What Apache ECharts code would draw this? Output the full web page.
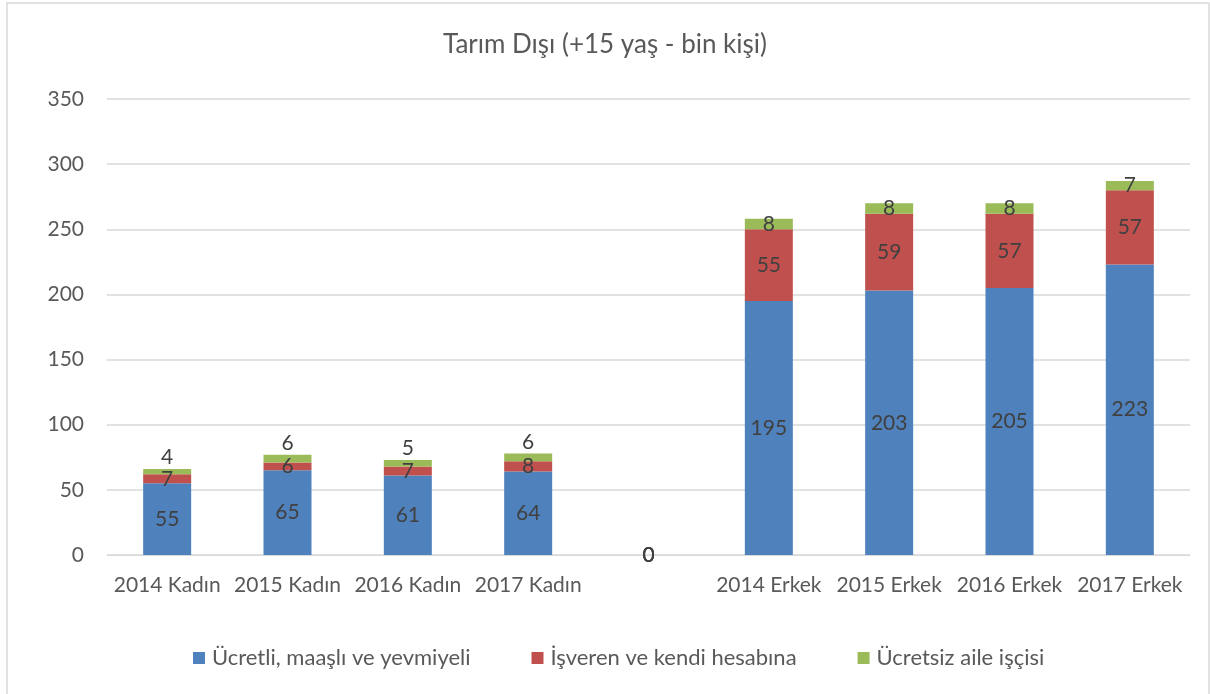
<!DOCTYPE html>
<html>
<head>
<meta charset="utf-8">
<script src="https://cdn.jsdelivr.net/npm/echarts@6/dist/echarts.min.js"></script>
<style>
  html, body { margin: 0; padding: 0; background: #fff; }
  #chart { width: 1210px; height: 694px; }
</style>
</head>
<body>
<div id="chart"></div>
<script>
// kategoriler (ortadaki boş sütun ayraç)
var categories = ['2014 Kadın', '2015 Kadın', '2016 Kadın', '2017 Kadın', '',
    '2014 Erkek', '2015 Erkek', '2016 Erkek', '2017 Erkek'];
var seriesNames = ['Ücretli, maaşlı ve yevmiyeli', 'İşveren ve kendi hesabına', 'Ücretsiz aile işçisi'];
var ucretli = [55, 65, 61, 64, 0, 195, 203, 205, 223];
var isveren = [7, 6, 7, 8, 0, 55, 59, 57, 57];
var ucretsiz = [4, 6, 5, 6, 0, 8, 8, 8, 7];
var yTicks = [0, 50, 100, 150, 200, 250, 300, 350];

var colors = ['#4f81bd', '#c0504d', '#9bbb59'];
var font = 'Lato, "Open Sans", sans-serif';

// kadın sütunlarında yeşil etiket üstte
var greenData = ucretsiz.map(function (v, i) {
    if (i < 4) {
        return { value: v, label: { position: 'top', distance: 1 } };
    }
    return v;
});

var chart = echarts.init(document.getElementById('chart'));
var labelStyle = {
    show: true,
    position: 'inside',
    color: '#404040',
    fontSize: 21,
    fontFamily: font
};

var option = {
    animation: false,
    graphic: [{
        type: 'rect',
        shape: { x: 7, y: 3, width: 1202, height: 700 },
        style: { fill: 'none', stroke: '#d9d9d9', lineWidth: 1.5 },
        silent: true
    }],
    title: {
        text: 'Tarım Dışı (+15 yaş - bin kişi)',
        left: 'center',
        top: 27,
        textStyle: { fontSize: 26, fontWeight: 'normal', color: '#595959', fontFamily: font }
    },
    legend: {
        bottom: 20,
        left: 188,
        itemWidth: 12,
        itemHeight: 12,
        itemGap: 61,
        icon: 'rect',
        data: seriesNames,
        textStyle: { fontSize: 22, color: '#595959', fontFamily: font, padding: [0, 0, 0, 2] }
    },
    grid: { left: 107, right: 20, top: 99, bottom: 139, containLabel: false },
    xAxis: {
        type: 'category',
        data: categories,
        axisLine: { lineStyle: { color: '#d9d9d9' } },
        axisTick: { show: false },
        axisLabel: { color: '#595959', fontSize: 21, fontFamily: font, margin: 20, interval: 0 }
    },
    yAxis: {
        type: 'value',
        min: yTicks[0],
        max: yTicks[yTicks.length - 1],
        interval: 50,
        axisLine: { show: false },
        axisTick: { show: false },
        splitLine: { lineStyle: { color: '#d9d9d9', width: 1.5 } },
        axisLabel: { color: '#595959', fontSize: 21, fontFamily: font, margin: 23 }
    },
    series: [
        {
            name: seriesNames[0], type: 'bar', stack: 'a', barWidth: 48,
            itemStyle: { color: colors[0] },
            label: labelStyle,
            data: ucretli
        },
        {
            name: seriesNames[1], type: 'bar', stack: 'a', barWidth: 48,
            itemStyle: { color: colors[1] },
            label: labelStyle,
            data: isveren
        },
        {
            name: seriesNames[2], type: 'bar', stack: 'a', barWidth: 48,
            itemStyle: { color: colors[2] },
            label: labelStyle,
            data: greenData
        }
    ]
};
chart.setOption(option);
</script>
</body>
</html>
